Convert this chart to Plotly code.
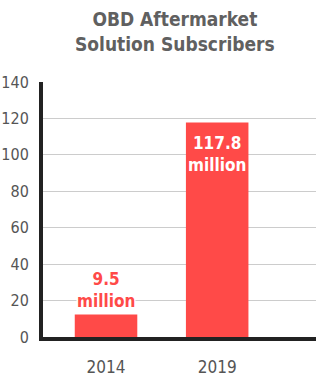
import plotly.graph_objects as go

years = ["2014", "2019"]
bar_values = [12.4, 117.8]
value_labels = ["9.5", "117.8"]
unit_label = "million"
y_ticks = [0, 20, 40, 60, 80, 100, 120, 140]

FONT = "DejaVu Sans Condensed"
RED = "#ff4a48"
x_pos = list(range(len(years)))

fig = go.Figure()
fig.add_trace(go.Bar(
    x=x_pos, y=bar_values, width=0.5625,
    marker=dict(color=RED, line=dict(width=0)),
    hoverinfo="skip",
))

fig.add_annotation(
    x=x_pos[0], y=bar_values[0], yanchor="bottom", yshift=2,
    text=f"<b>{value_labels[0]}<br>{unit_label}</b>", showarrow=False,
    font=dict(family=FONT, size=17, color=RED), bgcolor="white",
    borderpad=0,
)
fig.add_annotation(
    x=x_pos[1], y=bar_values[1], yanchor="top", yshift=-9,
    text=f"<b>{value_labels[1]}<br>{unit_label}</b>", showarrow=False,
    font=dict(family=FONT, size=17, color="white"),
)
fig.add_annotation(
    xref="paper", yref="paper", x=0.485, y=1, yanchor="bottom", yshift=25,
    text="<b>OBD Aftermarket<br>Solution Subscribers</b>", showarrow=False,
    font=dict(family=FONT, size=19, color="#606060"),
)

fig.update_layout(
    width=318, height=381,
    margin=dict(l=43, r=2, t=82, b=44),
    paper_bgcolor="white", plot_bgcolor="white",
    showlegend=False,
)
fig.update_xaxes(
    range=[-0.567, 1.889], tickvals=x_pos, ticktext=years,
    showline=True, linecolor="#222", linewidth=4, automargin=False,
    showgrid=False, zeroline=False, ticks="", ticklabelstandoff=12,
    tickfont=dict(family=FONT, size=17, color="#555"),
)
fig.update_yaxes(
    range=[0, 140], tickvals=y_ticks,
    showline=True, linecolor="#222", linewidth=4, automargin=False,
    showgrid=True, gridcolor="#cccccc", gridwidth=1,
    zeroline=False, ticks="", ticklabelstandoff=7,
    tickfont=dict(family=FONT, size=16, color="#555"),
)

fig.write_html("out.html")
